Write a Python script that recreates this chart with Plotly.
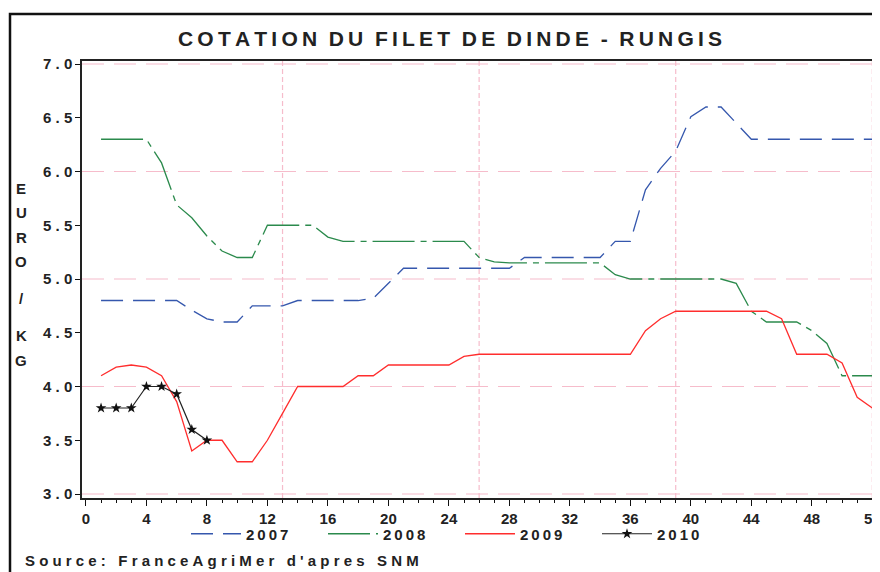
import plotly.graph_objects as go

# weekly price of turkey fillet, euro / kg (Rungis)
weeks = list(range(1, 53))

prix_2007 = [4.8, 4.8, 4.8, 4.8, 4.8, 4.8, 4.71, 4.63, 4.6, 4.6,
             4.75, 4.75, 4.75, 4.8, 4.8, 4.8, 4.8, 4.8, 4.82, 4.96,
             5.1, 5.1, 5.1, 5.1, 5.1, 5.1, 5.1, 5.1, 5.2, 5.2,
             5.2, 5.2, 5.2, 5.2, 5.35, 5.35, 5.83, 6.03, 6.19, 6.51,
             6.6, 6.6, 6.45, 6.3, 6.3, 6.3, 6.3, 6.3, 6.3, 6.3,
             6.3, 6.3]
prix_2008 = [6.3, 6.3, 6.3, 6.3, 6.08, 5.69, 5.57, 5.4, 5.26, 5.2,
             5.2, 5.5, 5.5, 5.5, 5.5, 5.39, 5.35, 5.35, 5.35, 5.35,
             5.35, 5.35, 5.35, 5.35, 5.35, 5.2, 5.16, 5.15, 5.15, 5.15,
             5.15, 5.15, 5.15, 5.15, 5.04, 5.0, 5.0, 5.0, 5.0, 5.0,
             5.0, 5.0, 4.96, 4.7, 4.6, 4.6, 4.6, 4.52, 4.4, 4.1,
             4.1, 4.1]
prix_2009 = [4.1, 4.18, 4.2, 4.18, 4.1, 3.86, 3.4, 3.5, 3.5, 3.3,
             3.3, 3.5, 3.75, 4.0, 4.0, 4.0, 4.0, 4.1, 4.1, 4.2,
             4.2, 4.2, 4.2, 4.2, 4.28, 4.3, 4.3, 4.3, 4.3, 4.3,
             4.3, 4.3, 4.3, 4.3, 4.3, 4.3, 4.52, 4.63, 4.7, 4.7,
             4.7, 4.7, 4.7, 4.7, 4.7, 4.63, 4.3, 4.3, 4.3, 4.22,
             3.9, 3.8]
prix_2010 = [3.8, 3.8, 3.8, 4.0, 4.0, 3.93, 3.6, 3.5]

y_ticks = [3.0, 3.5, 4.0, 4.5, 5.0, 5.5, 6.0, 6.5, 7.0]
grid_y = [3, 4, 5, 6, 7]
grid_x = [13, 26, 39, 52]

PINK = "#f6bccb"
FONT = "Liberation Sans, Arial, sans-serif"
INK = "#222222"

# the page body adds an 8px margin, so work in screen pixels and shift back
OFF = 8
W, H = 880 - OFF, 572 - OFF
L, R, T, B = 82 - OFF, 3, 61 - OFF, 74
PW, PH = W - L - R, H - T - B


def spaced(s, sep="\u2009"):
    return sep.join(s)


def px_x(x):
    return (x - OFF - L) / PW


def px_y(y):
    return (H - B - (y - OFF)) / PH


fig = go.Figure()

fig.add_trace(go.Scatter(x=weeks, y=prix_2007, name=spaced("2007"), mode="lines",
                         line=dict(color="#3557ad", width=1.3, dash="22px,10px")))
fig.add_trace(go.Scatter(x=weeks, y=prix_2008, name=spaced("2008"), mode="lines",
                         line=dict(color="#2b8a4c", width=1.3, dash="42px,6px,6px,6px")))
fig.add_trace(go.Scatter(x=weeks, y=prix_2009, name=spaced("2009"), mode="lines",
                         line=dict(color="#ff2d2d", width=1.3)))
fig.add_trace(go.Scatter(x=weeks[:len(prix_2010)], y=prix_2010, name=spaced("2010"),
                         mode="lines+markers",
                         line=dict(color=INK, width=1.2),
                         marker=dict(symbol="star", size=8, color="#111111")))

for g in grid_y:
    fig.add_shape(type="line", xref="paper", x0=0, x1=1, yref="y", y0=g, y1=g,
                  line=dict(color=PINK, width=1.2, dash="22px,10px"), layer="below")
for g in grid_x:
    fig.add_shape(type="line", yref="paper", y0=0, y1=1, xref="x", x0=g, x1=g,
                  line=dict(color=PINK, width=1.2, dash="5px,3px"), layer="below")

# outer frame
fig.add_shape(type="rect", xref="paper", yref="paper",
              x0=px_x(10), x1=px_x(900), y0=px_y(600), y1=px_y(14),
              line=dict(color="#111111", width=2.5))

# vertical axis title, one letter per line
for ch, ypos in zip("EURO/KG", [188, 212, 237, 262, 298, 335, 360]):
    fig.add_annotation(text=ch, x=px_x(21), y=px_y(ypos), xref="paper", yref="paper",
                       showarrow=False, xanchor="center", yanchor="middle",
                       font=dict(family=FONT, size=15, color=INK, weight="bold"))

NB = "\u00a0"
source = (NB * 3).join(spaced(w, NB) for w in "Source: FranceAgriMer d'apres SNM".split(" "))
fig.add_annotation(text=source, x=px_x(23), y=px_y(560), xref="paper", yref="paper",
                   showarrow=False, xanchor="left", yanchor="middle",
                   font=dict(family=FONT, size=15, color=INK, weight="bold"))

title_text = (NB * 2).join(spaced(w) for w in "COTATION DU FILET DE DINDE - RUNGIS".split(" "))
fig.add_annotation(text=title_text, x=px_x(450), y=px_y(39), xref="paper", yref="paper",
                   showarrow=False, xanchor="center", yanchor="middle",
                   font=dict(family=FONT, size=21, color=INK, weight="bold"))

fig.update_layout(
    width=W, height=H,
    margin=dict(l=L, r=R, t=T, b=B, autoexpand=False),
    paper_bgcolor="white", plot_bgcolor="white",
    legend=dict(orientation="h", xref="container", yref="container",
                x=(460 - OFF) / W, y=1 - (534 - OFF) / H, xanchor="center", yanchor="middle",
                font=dict(family=FONT, size=15, color=INK, weight="bold"),
                itemwidth=50, entrywidth=72, bgcolor="rgba(0,0,0,0)"),
    font=dict(family=FONT),
)

fig.update_xaxes(range=[-0.26, 52.31], tick0=0, dtick=4, ticks="outside", ticklen=6,
                 tickcolor="#111111", showline=True, linecolor=INK, linewidth=1.5,
                 mirror=True, showgrid=False, zeroline=False, automargin=False,
                 ticklabeloverflow="allow",
                 minor=dict(dtick=1, ticks="outside", ticklen=3, tickcolor="#111111"),
                 tickfont=dict(family=FONT, size=15, color=INK, weight="bold"))
fig.update_yaxes(range=[2.963, 7.028], tickvals=y_ticks,
                 ticktext=[f"{v:.1f}".replace(".", " . ") for v in y_ticks],
                 ticks="outside", ticklen=5, tickcolor="#111111",
                 showline=True, linecolor=INK, linewidth=1.5, mirror=True,
                 showgrid=False, zeroline=False, automargin=False,
                 tickfont=dict(family=FONT, size=15, color=INK, weight="bold"))

fig.write_html("out.html")
